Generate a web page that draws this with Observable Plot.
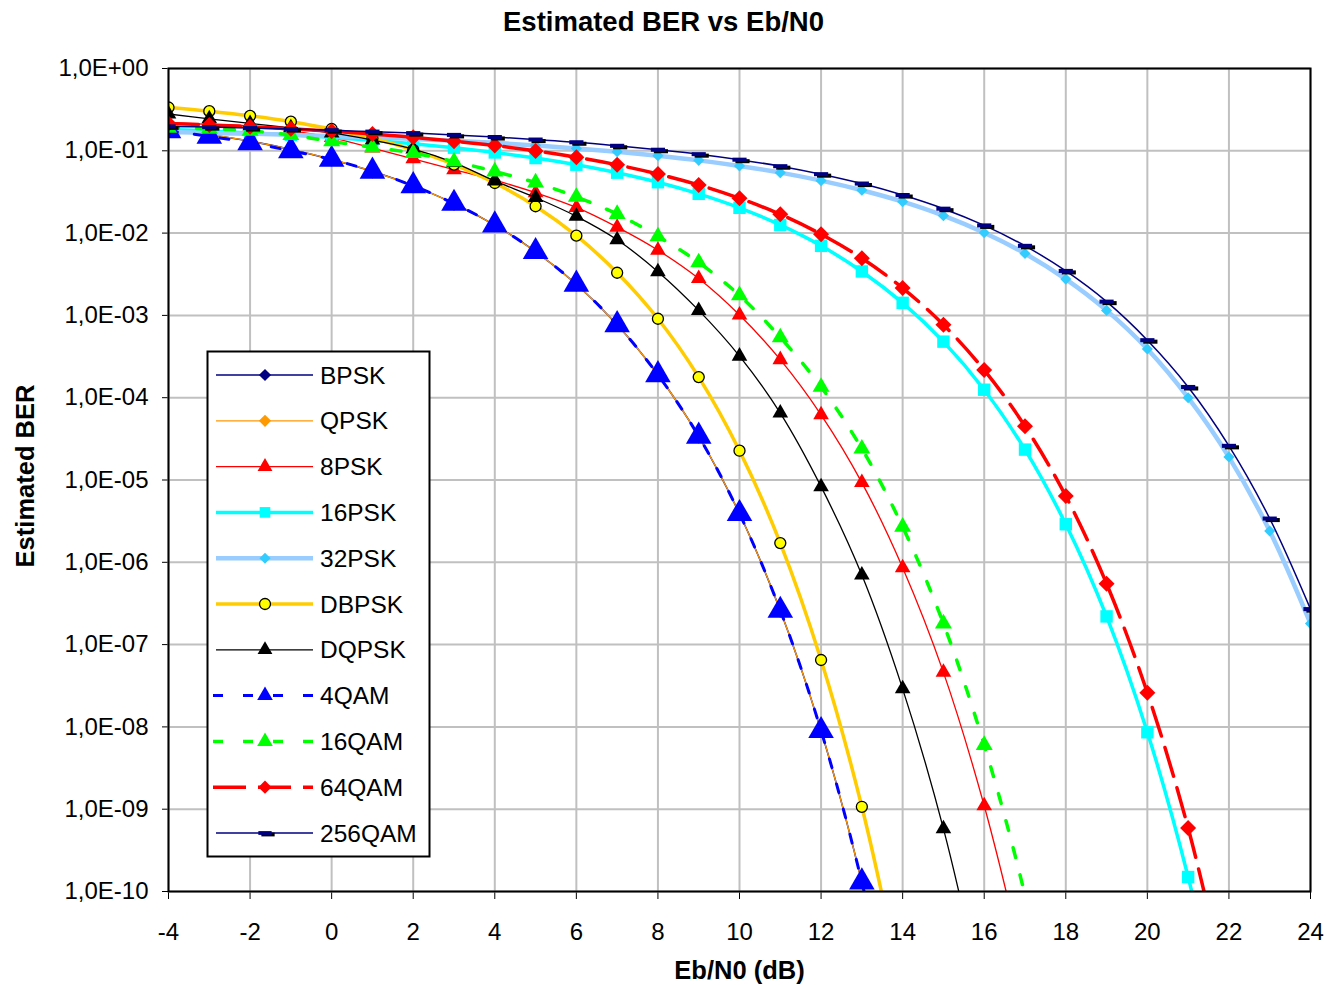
<!DOCTYPE html>
<html>
<head>
<meta charset="utf-8">
<script src="https://cdn.jsdelivr.net/npm/d3@7"></script>
<script src="https://cdn.jsdelivr.net/npm/@observablehq/plot@0.6"></script>
<style>
html,body{margin:0;padding:0;background:#fff;}
#wrap{position:relative;width:1327px;height:985px;font-family:"Liberation Sans",Arial,sans-serif;color:#000;overflow:hidden;}
#title{position:absolute;left:0;top:0;width:1327px;height:44px;line-height:44px;text-align:center;font-weight:bold;font-size:27.5px;}
#chart{position:absolute;left:0;top:40px;}
#legend{position:absolute;left:0;top:0;pointer-events:none;}
</style>
</head>
<body>
<div id="wrap">
  <div id="title">Estimated BER vs Eb/N0</div>
  <div id="chart"></div>
  <svg id="legend" width="1327" height="985"></svg>
</div>
<script>
// ---- data ----
const ebn0 = [-4,-3,-2,-1,0,1,2,3,4,5,6,7,8,9,10,11,12,13,14,15,16,17,18,19,20,21,22,23,24];
const xTicks = [-4,-2,0,2,4,6,8,10,12,14,16,18,20,22,24];
const yTicks = [1,1e-1,1e-2,1e-3,1e-4,1e-5,1e-6,1e-7,1e-8,1e-9,1e-10];
const yTickLabels = ["1,0E+00","1,0E-01","1,0E-02","1,0E-03","1,0E-04","1,0E-05","1,0E-06","1,0E-07","1,0E-08","1,0E-09","1,0E-10"];
const seriesNames = ["BPSK","QPSK","8PSK","16PSK","32PSK","DBPSK","DQPSK","4QAM","16QAM","64QAM","256QAM"];

const bpsk   = [0.186,0.158,0.131,0.104,0.0786,0.0563,0.0375,0.0229,0.0125,0.00595,0.00239,7.7e-4,1.9e-4,3.4e-5,3.9e-6,2.6e-7,9.0e-9,1.3e-10,6.8e-13];
const qpsk   = [0.186,0.158,0.131,0.104,0.0786,0.0563,0.0375,0.0229,0.0125,0.00595,0.00239,7.7e-4,1.9e-4,3.4e-5,3.9e-6,2.6e-7,9.0e-9,1.3e-10,6.8e-13];
const psk8   = [0.22,0.21,0.20,0.175,0.145,0.108,0.08,0.059,0.044,0.031,0.0205,0.0118,0.0062,0.0028,0.00101,2.9e-4,6.2e-5,9.3e-6,8.6e-7,4.6e-8,1.1e-9,1.1e-11];
const psk16  = [0.182,0.174,0.165,0.156,0.145,0.134,0.122,0.109,0.0954,0.0816,0.0677,0.0542,0.0415,0.030,0.0203,0.01256,0.0070,0.00342,0.00142,4.8e-4,1.25e-4,2.34e-5,2.9e-6,2.2e-7,8.6e-9,1.5e-10,9.3e-13];
const psk32  = [0.169,0.165,0.161,0.1565,0.151,0.146,0.139,0.132,0.125,0.116,0.107,0.0975,0.0872,0.0765,0.0654,0.0543,0.0434,0.0332,0.0241,0.0163,0.0101,0.00565,0.00276,0.00115,3.9e-4,1.0e-4,1.9e-5,2.4e-6,1.8e-7];
const dbpsk  = [0.336,0.303,0.266,0.226,0.184,0.142,0.1025,0.068,0.0406,0.0212,0.0093,0.0033,9.1e-4,1.78e-4,2.27e-5,1.71e-6,6.5e-8,1.07e-9,6.1e-12];
const dqpsk  = [0.28,0.245,0.215,0.19,0.165,0.135,0.105,0.072,0.043,0.027,0.016,0.0083,0.0034,0.00115,3.2e-4,6.5e-5,8.3e-6,7.0e-7,2.9e-8,5.8e-10,4.2e-12];
const qam4   = [0.175,0.15,0.125,0.1,0.0786,0.0563,0.0375,0.0229,0.0125,0.00595,0.00239,7.7e-4,1.9e-4,3.4e-5,3.9e-6,2.6e-7,9.0e-9,1.3e-10,6.8e-13];
const qam16  = [0.19,0.185,0.175,0.155,0.13,0.11,0.094,0.074,0.056,0.041,0.0275,0.017,0.0091,0.0044,0.00175,5.4e-4,1.35e-4,2.4e-5,2.7e-6,1.8e-7,6.0e-9,9e-11,4e-13];
const qam64  = [0.215,0.206,0.196,0.185,0.173,0.16,0.146,0.131,0.116,0.0997,0.0835,0.0675,0.0523,0.0385,0.0265,0.0169,0.0097,0.00495,0.00215,7.7e-4,2.17e-4,4.5e-5,6.4e-6,5.5e-7,2.6e-8,5.9e-10,5e-12];
const qam256 = [0.198,0.194,0.189,0.184,0.178,0.171,0.164,0.156,0.147,0.137,0.127,0.115,0.103,0.091,0.078,0.065,0.052,0.040,0.029,0.0198,0.0124,0.0070,0.00347,0.00147,5.0e-4,1.35e-4,2.6e-5,3.4e-6,2.7e-7];

// ---- styles ----
const dashSymbol = {draw(ctx, size){const w=Math.sqrt(size), h=w/7; ctx.moveTo(-w/2,-h); ctx.lineTo(w/2,-h); ctx.lineTo(w/2,h); ctx.lineTo(-w/2,h); ctx.closePath();}};
const styles = [
  {values: bpsk,   stroke:"#000080", sw:1.5, dash:null,    symbol:d3.symbolDiamond2, r:6.5, fill:"#000080", lr:5.5},
  {values: qpsk,   stroke:"#FF9900", sw:1.3, dash:null,    symbol:d3.symbolDiamond2, r:6.5, fill:"#FF9900", lr:5.5},
  {values: psk8,   stroke:"#FF0000", sw:1.3, dash:null,    symbol:d3.symbolTriangle, r:5.8, fill:"#FF0000", lr:5.5},
  {values: psk16,  stroke:"#00FFFF", sw:3.5, dash:null,    symbol:d3.symbolSquare,   r:7,   fill:"#00FFFF", lr:6},
  {values: psk32,  stroke:"#99CCFF", sw:4.5, dash:null,    symbol:d3.symbolDiamond2, r:5,   fill:"#33CCFF", lr:5},
  {values: dbpsk,  stroke:"#FFCC00", sw:3.5, dash:null,    symbol:d3.symbolCircle,   r:5.5, fill:"#FFFF00", lr:5.5, mstroke:"#000", msw:1.3},
  {values: dqpsk,  stroke:"#000000", sw:1.3, dash:null,    symbol:d3.symbolTriangle, r:5.8, fill:"#000000", lr:5.5},
  {values: qam4,   stroke:"#0000FF", sw:3,   dash:"9,17",  symbol:d3.symbolTriangle, r:9.5, fill:"#0000FF", lr:5.8},
  {values: qam16,  stroke:"#00FF00", sw:3.5, dash:"10,18", symbol:d3.symbolTriangle, r:6.3, fill:"#00FF00", lr:5.8},
  {values: qam64,  stroke:"#FF0000", sw:3.5, dash:"30,12", symbol:d3.symbolDiamond2, r:7.2, fill:"#FF0000", lr:6},
  {values: qam256, stroke:"#000080", sw:1.5, dash:null,    symbol:dashSymbol,        r:8,   fill:"#000080", lr:7.5, shadow:true}
];

const yDomain = [1e-10, 1];
const fmtY = d => yTickLabels[yTicks.findIndex(t => Math.abs(Math.log10(t) - Math.log10(d)) < 1e-6)];

const marks = [
  Plot.ruleX(xTicks, {stroke:"#C0C0C0", strokeWidth:2}),
  Plot.ruleY(yTicks, {stroke:"#C0C0C0", strokeWidth:2})
];
styles.forEach(s => {
  const data = s.values.map((v,i) => ({x: ebn0[i], y: v}));
  marks.push(Plot.line(data, {x:"x", y:"y", stroke:s.stroke, strokeWidth:s.sw, strokeDasharray:s.dash || undefined, curve:"catmull-rom", clip:true, strokeLinejoin:"round"}));
  const pts = data.filter(d => d.y >= yDomain[0]);
  if (s.shadow) marks.push(Plot.dot(pts, {x:"x", y:"y", symbol:s.symbol, r:s.r, fill:"#000", stroke:"none", dx:3, dy:1.5, clip:true}));
  marks.push(Plot.dot(pts, {x:"x", y:"y", symbol:s.symbol, r:s.r, fill:s.fill, stroke:s.mstroke || "none", strokeWidth:s.msw || 0, clip:true}));
});
marks.push(Plot.frame({stroke:"#000", strokeWidth:2}));
marks.push(Plot.text(["Eb/N0 (dB)"], {frameAnchor:"bottom", dy:79, text:d=>d, fontWeight:"bold", fontSize:25.5, lineAnchor:"middle", textAnchor:"middle"}));
marks.push(Plot.text(["Estimated BER"], {frameAnchor:"left", dx:-143, dy:-4, text:d=>d, fontWeight:"bold", fontSize:25.5, rotate:-90, textAnchor:"middle", lineAnchor:"middle"}));

try {
  const chart = Plot.plot({
    width:1327, height:945,
    marginTop:28, marginBottom:94, marginLeft:168, marginRight:17,
    style:{fontFamily:"'Liberation Sans', Arial, sans-serif", fontSize:"24px", color:"#000", background:"transparent", overflow:"visible"},
    x:{domain:[-4,24], ticks:xTicks, tickSize:8, tickPadding:23, tickFormat:d => String(d), label:null},
    y:{type:"log", domain:yDomain, ticks:yTicks, tickSize:6, tickPadding:14, tickFormat:fmtY, label:null},
    marks
  });
  document.getElementById("chart").appendChild(chart);
} catch (e) {
  document.getElementById("chart").textContent = "Error: " + e.message;
}

// ---- legend (inside the plot area) ----
const lg = d3.select("#legend");
const box = {x:207.5, y:351.5, w:222, h:505};
lg.append("rect").attr("x",box.x).attr("y",box.y).attr("width",box.w).attr("height",box.h)
  .attr("fill","#fff").attr("stroke","#000").attr("stroke-width",2);
styles.forEach((s,i) => {
  const cy = 375 + i*45.8;
  const g = lg.append("g").attr("transform", `translate(0,${cy})`);
  g.append("line").attr("x1", s.dash ? 213 : 216).attr("x2", 313).attr("y1",0).attr("y2",0)
    .attr("stroke", s.stroke).attr("stroke-width", s.sw)
    .attr("stroke-dasharray", s.dash ? (s.dash === "30,12" ? "33,12" : "10,20") : null);
  const path = d3.symbol(s.symbol, Math.PI*s.lr*s.lr)();
  if (s.shadow) g.append("path").attr("d", path).attr("transform","translate(268,1.5)").attr("fill","#000");
  g.append("path").attr("d", path).attr("transform","translate(265,0)")
    .attr("fill", s.fill).attr("stroke", s.mstroke || "none").attr("stroke-width", s.msw || 0);
  g.append("text").attr("x",320).attr("y",0).attr("dy","0.35em")
    .attr("font-family","'Liberation Sans', Arial, sans-serif").attr("font-size",24.5).attr("fill","#000")
    .text(seriesNames[i]);
});
</script>
</body>
</html>
